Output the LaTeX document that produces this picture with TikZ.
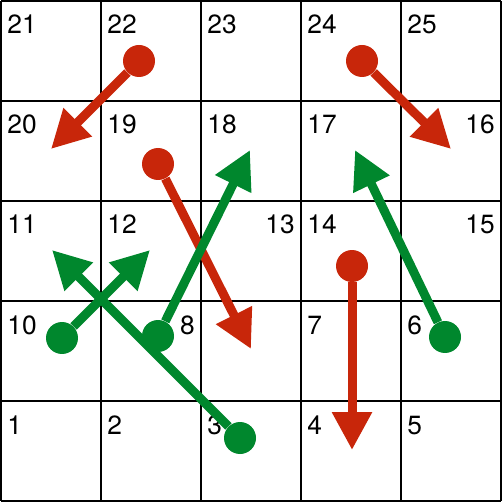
\documentclass[tikz,border=0pt]{standalone}
\usepackage{fontspec}
\setmainfont{TeX Gyre Heros}
\usetikzlibrary{arrows.meta}

\definecolor{snakered}{RGB}{200,38,10}
\definecolor{laddergreen}{RGB}{0,135,45}

\begin{document}
\begin{tikzpicture}[
  x=0.02cm, y=-0.02cm,
  font=\fontsize{15}{18}\selectfont,
  gridline/.style={draw=black, line width=0.04cm},
  num/.style={inner sep=0pt, anchor=base west},
  numr/.style={inner sep=0pt, anchor=base east},
  dot/.style={circle, fill=#1, minimum size=0.64cm, inner sep=0pt},
  snake/.style={draw=snakered, line width=0.18cm, -{Triangle[length=0.76cm, width=0.76cm]}},
  ladder/.style={draw=laddergreen, line width=0.18cm, -{Triangle[length=0.76cm, width=0.76cm]}}
]
\useasboundingbox (-1,-1) rectangle (501,501);
\foreach \k in {0,100,...,500} {
  \draw[gridline] (\k,0) -- (\k,500);
  \draw[gridline] (0,\k) -- (500,\k);
}

% cell numbers
\node[num] (n21) at (6,33) {21};
\node[num] (n22) at (106,33) {22};
\node[num] (n23) at (206,33) {23};
\node[num] (n24) at (306,33) {24};
\node[num] (n25) at (406,33) {25};
\node[num] (n20) at (6,133) {20};
\node[num] (n19) at (106,133) {19};
\node[num] (n18) at (206,133) {18};
\node[num] (n17) at (306,133) {17};
\node[numr] (n16) at (494,133) {16};
\node[num] (n11) at (6,233) {11};
\node[num] (n12) at (106,233) {12};
\node[numr] (n13) at (294,233) {13};
\node[num] (n14) at (306,233) {14};
\node[numr] (n15) at (494,233) {15};
\node[num] (n10) at (6,333) {10};
\node[numr] (n8) at (194,333) {8};
\node[num] (n7) at (306,333) {7};
\node[num] (n6) at (406,333) {6};
\node[num] (n1) at (6,433) {1};
\node[num] (n2) at (106,433) {2};
\node[num] (n3) at (206,433) {3};
\node[num] (n4) at (306,433) {4};
\node[num] (n5) at (406,433) {5};

% snakes
\node[dot=snakered] (s22) at (138,60) {};
\node[dot=snakered] (s24) at (361,60) {};
\node[dot=snakered] (s19) at (157,163) {};
\node[dot=snakered] (s14) at (351,265) {};
\coordinate (e22) at (50,148);
\coordinate (e24) at (450,148);
\coordinate (e19) at (250,348);
\coordinate (e14) at (351,449);
\draw[snake] (s22) -- (e22);
\draw[snake] (s24) -- (e24);
\draw[snake] (s19) -- (e19);
\draw[snake] (s14) -- (e14);

% ladders
\node[dot=laddergreen] (l8) at (157,335) {};
\node[dot=laddergreen] (l6) at (444,336) {};
\node[dot=laddergreen] (l10) at (61,337) {};
\node[dot=laddergreen] (l3) at (239,437) {};
\coordinate (t8) at (249,149);
\coordinate (t6) at (354,149);
\coordinate (t10) at (149,249);
\coordinate (t3) at (51,249);
\draw[ladder] (l8) -- (t8);
\draw[ladder] (l6) -- (t6);
\draw[ladder] (l10) -- (t10);
\draw[ladder] (l3) -- (t3);
\end{tikzpicture}
\end{document}
